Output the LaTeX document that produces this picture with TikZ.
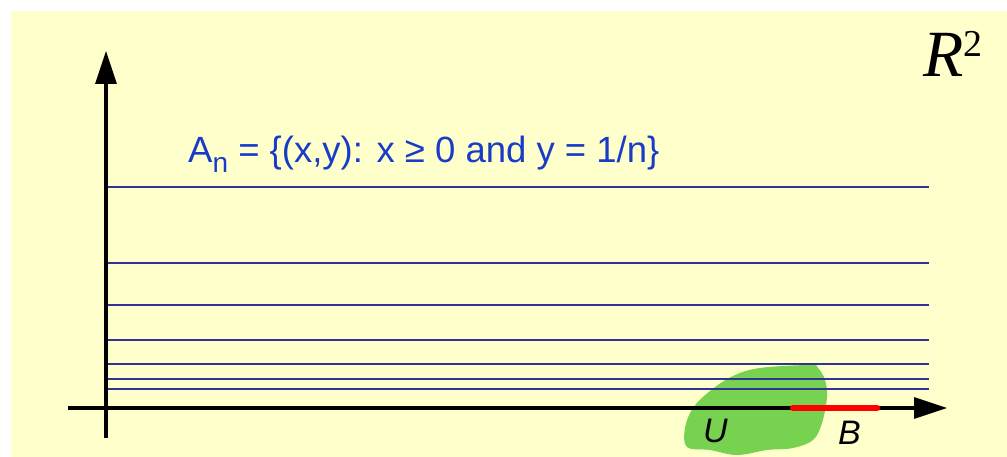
\documentclass[tikz,border=0pt]{standalone}
\usepackage{fontspec}
\setmainfont{Liberation Serif}
\setsansfont{Liberation Sans}
\usetikzlibrary{arrows.meta, positioning}
\definecolor{paleyellow}{RGB}{255,255,204}
\definecolor{setblue}{RGB}{50,50,150}
\definecolor{labelblue}{RGB}{25,60,200}
\definecolor{opengreen}{RGB}{119,210,80}
\tikzset{
  axis/.style={line width=3.2pt, draw=black, -{Triangle[length=33pt,width=21pt]}},
  setline/.style={line width=2.8pt, draw=setblue},
  ballset/.style={line width=6.5pt, draw=red, line cap=round},
  setlabel/.style={font=\sffamily\fontsize{36.5}{42}\selectfont, text=labelblue, inner sep=0pt, anchor=base west},
  ptlabel/.style={font=\sffamily\itshape\fontsize{34}{38}\selectfont, inner sep=0pt, anchor=base west},
  spacelabel/.style={font=\rmfamily\fontsize{66}{72}\selectfont, inner sep=0pt, anchor=base west}
}

\begin{document}
\begin{tikzpicture}[x=1pt, y=-1pt]

\useasboundingbox (0,0) rectangle (1007,457);
\fill[paleyellow] (11,11) rectangle (1007,457);

% open set U
\fill[opengreen] plot[smooth cycle, tension=0.6] coordinates {
  (810,365) (760,368) (733,376) (710,391) (693,408) (685,428) (687,447)
  (710,450) (737,455) (767,450) (793,448) (813,440) (822,423) (827,397)
  (825,380) (818,368)};

% the sets A_n
\foreach \yy in {187,263,305,340,364,379,389}
  \draw[setline] (106,\yy) -- (929,\yy);

% axes
\coordinate (ybot) at (106,438);
\coordinate (ytop) at (106,51);
\coordinate (xleft) at (68,408);
\coordinate (xright) at (947,408);
\draw[axis] (ybot) -- (ytop);
\draw[axis] (xleft) -- (xright);

% B on the x axis
\coordinate (bl) at (793,408);
\coordinate (br) at (877,408);
\draw[ballset] (bl) -- (br);

\node[setlabel] (def) at (188,163)
  {A\raisebox{-10pt}{\fontsize{28}{32}\selectfont n} = \{(x,y): x ≥ 0 and y = 1/n\}};
\node[spacelabel] (space) at (923,77)
  {\textit{R}\raisebox{20pt}{\fontsize{38}{38}\selectfont 2}};
\node[ptlabel] (ulabel) at (703,442) {U};
\node[ptlabel] (blabel) at (838,444) {B};

\end{tikzpicture}
\end{document}
